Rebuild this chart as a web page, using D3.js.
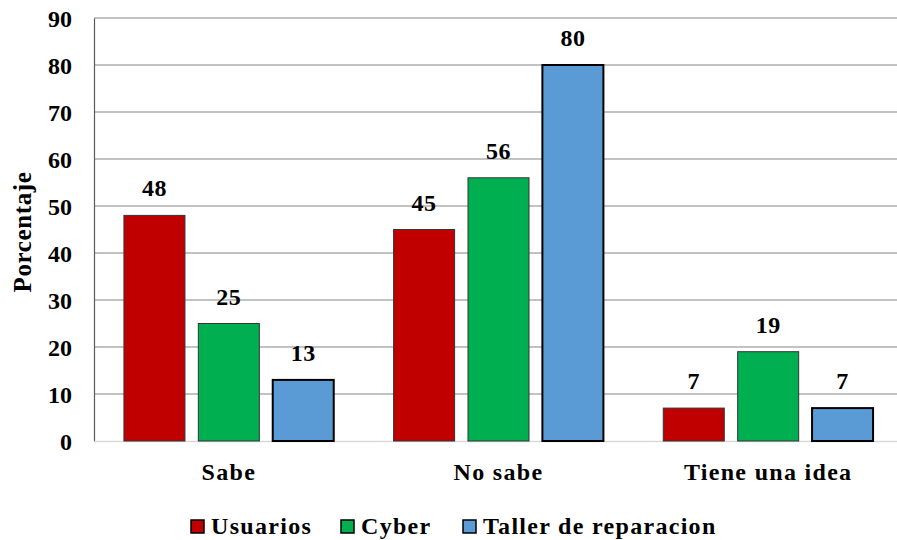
<!DOCTYPE html>
<html lang="es">
<head>
<meta charset="UTF-8">
<title>Porcentaje</title>
<script src="https://cdn.jsdelivr.net/npm/d3@7"></script>
<style>
  body { margin: 0; background: #fff; }
  svg text { font-family: "Liberation Serif", "Times New Roman", serif; font-weight: bold; fill: #000; }
</style>
</head>
<body>
<svg id="chart" width="897" height="540"></svg>
<script>
// data
var categories = ["Sabe", "No sabe", "Tiene una idea"];
var seriesNames = ["Usuarios", "Cyber", "Taller de reparacion"];
var usuarios = [48, 45, 7];
var cyber = [25, 56, 19];
var taller = [13, 80, 7];
var yTicks = [0, 10, 20, 30, 40, 50, 60, 70, 80, 90];
var colors = ["#C00000", "#00B050", "#5B9BD5"];

var values = [usuarios, cyber, taller];
var rows = categories.map(function(c, i) {
  return { cat: c, vals: seriesNames.map(function(s, j) { return { name: s, v: values[j][i], k: j }; }) };
});

var margin = {top: 18, right: -6, bottom: 99, left: 94},
    width = 897 - margin.left - margin.right,
    height = 540 - margin.top - margin.bottom;

var svg = d3.select("#chart")
  .append("g")
  .attr("transform", "translate(" + margin.left + "," + margin.top + ")");

var x0 = d3.scaleBand().domain(categories).range([0, width]).paddingInner(0.222).paddingOuter(0.111);
var x1 = d3.scaleBand().domain(seriesNames).range([0, x0.bandwidth()]).paddingInner(0.18);
var y = d3.scaleLinear().domain([0, 90]).range([height, 0]);

// gridlines
svg.append("g")
  .selectAll("line")
  .data(yTicks.filter(function(d) { return d > 0; }))
  .enter().append("line")
  .attr("x1", 0).attr("x2", width)
  .attr("y1", function(d) { return y(d); })
  .attr("y2", function(d) { return y(d); })
  .attr("stroke", "#868686")
  .attr("stroke-width", 1.2);

// y axis
var yAxis = svg.append("g")
  .call(d3.axisLeft(y).tickValues(yTicks).tickSize(0).tickPadding(22));
yAxis.select(".domain").attr("stroke", "#595959").attr("stroke-width", 1.2);
yAxis.selectAll("text").style("font-size", "24px").attr("dy", "0.34em");

// x axis
var xAxis = svg.append("g")
  .attr("transform", "translate(0," + height + ")")
  .call(d3.axisBottom(x0).tickSize(0).tickPadding(23));
xAxis.select(".domain").attr("stroke", "#d9d9d9").attr("stroke-width", 1.5);
xAxis.selectAll("text").style("font-size", "24px").style("letter-spacing", "1.3px").attr("dy", "0.66em");

// bars
var groups = svg.append("g")
  .selectAll("g")
  .data(rows)
  .enter().append("g")
  .attr("transform", function(d) { return "translate(" + x0(d.cat) + ",0)"; });

groups.selectAll("rect")
  .data(function(d) { return d.vals; })
  .enter().append("rect")
  .attr("x", function(d) { return x1(d.name); })
  .attr("y", function(d) { return y(d.v); })
  .attr("width", x1.bandwidth())
  .attr("height", function(d) { return height - y(d.v); })
  .attr("fill", function(d) { return colors[d.k]; })
  .attr("stroke", function(d) { return d.k == 2 ? "#000" : "#333"; })
  .attr("stroke-width", function(d) { return d.k == 2 ? 2 : 1; });

groups.selectAll("text")
  .data(function(d) { return d.vals; })
  .enter().append("text")
  .attr("x", function(d) { return x1(d.name) + x1.bandwidth() / 2; })
  .attr("y", function(d) { return y(d.v) - 19; })
  .attr("text-anchor", "middle")
  .style("font-size", "24px")
  .style("letter-spacing", "0.5px")
  .text(function(d) { return d.v; });

// y title
d3.select("#chart").append("text")
  .attr("transform", "translate(31,232) rotate(-90)")
  .attr("text-anchor", "middle")
  .style("font-size", "25px")
  .style("letter-spacing", "0.6px")
  .text("Porcentaje");

// legend
var legendX = [191, 341, 463];
var legend = d3.select("#chart").append("g")
  .selectAll("g")
  .data(seriesNames)
  .enter().append("g")
  .attr("transform", function(d, i) { return "translate(" + legendX[i] + ",520)"; });
legend.append("rect")
  .attr("width", 13).attr("height", 13)
  .attr("fill", function(d, i) { return colors[i]; })
  .attr("stroke", "#000").attr("stroke-width", 1.5);
legend.append("text")
  .attr("x", 20).attr("y", 14)
  .style("font-size", "24px")
  .style("letter-spacing", "1.3px")
  .text(function(d) { return d; });
</script>
</body>
</html>
